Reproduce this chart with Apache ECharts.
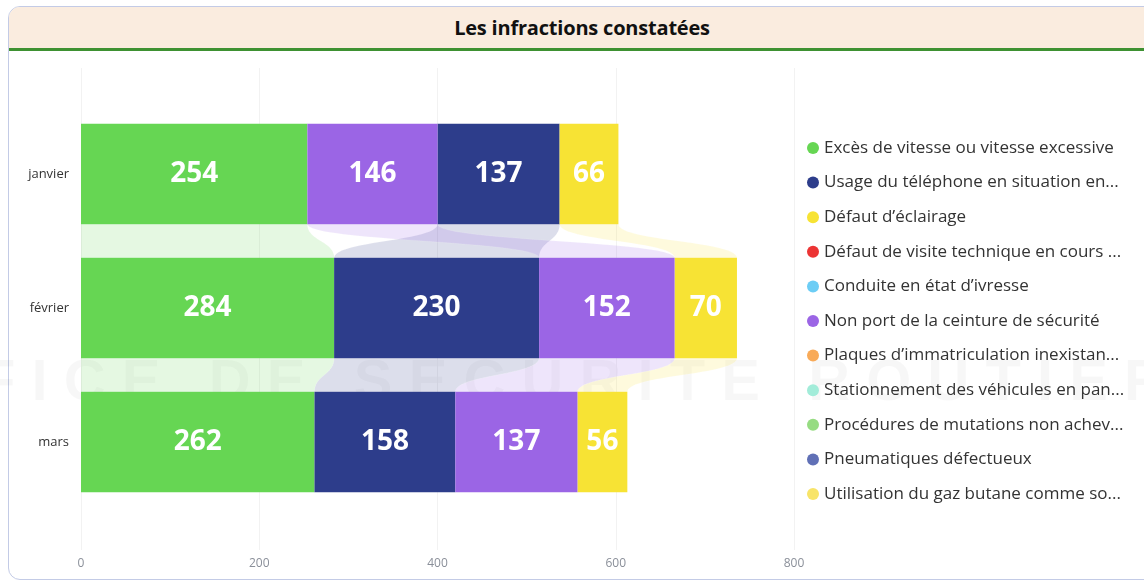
<!DOCTYPE html>
<html>
<head>
<meta charset="utf-8">
<script src="https://cdn.jsdelivr.net/npm/echarts@6/dist/echarts.min.js"></script>
<style>
  body { margin: 0; width: 1144px; height: 585px; overflow: hidden; background: #fff; font-family: 'Open Sans', 'Noto Sans', sans-serif; }
  .card { position: absolute; left: 8px; top: 6px; width: 1148px; height: 574px; border: 1px solid #c3cbe6; border-radius: 12px; overflow: hidden; box-sizing: border-box; }
  .head { height: 41px; line-height: 42px; background: #faecdf; border-bottom: 3px solid #3e9132; text-align: center; font-weight: bold; font-size: 20px; color: #111; letter-spacing: -0.2px; }
  #chart { position: absolute; left: 0; top: 0; width: 1144px; height: 585px; }
</style>
</head>
<body>
<div class="card"><div class="head">Les infractions constatées</div></div>
<div id="chart"></div>
<script>
// mois affichés
const mois = ['janvier', 'février', 'mars']
// types d'infractions (légende)
const infractions = [
  'Excès de vitesse ou vitesse excessive',
  'Usage du téléphone en situation en conduite',
  'Défaut d\u2019éclairage',
  'Défaut de visite technique en cours de validité',
  'Conduite en état d\u2019ivresse',
  'Non port de la ceinture de sécurité',
  'Plaques d\u2019immatriculation inexistantes ou illisibles',
  'Stationnement des véhicules en panne sur la chaussée',
  'Procédures de mutations non achevées',
  'Pneumatiques défectueux',
  'Utilisation du gaz butane comme source d\u2019énergie'
]
const couleurs = ['#66d653', '#2d3d8b', '#f7e334', '#ec3434', '#6ccdf5', '#9b65e5', '#f8aa58', '#a2ecd9', '#96dc82', '#6070b6', '#f8e468']

// valeurs par mois
const exces = [254, 284, 262]
const telephone = [137, 230, 158]
const eclairage = [66, 70, 56]
const visiteTechnique = [0, 0, 0]
const ivresse = [0, 0, 0]
const ceinture = [146, 152, 137]
const plaques = [0, 0, 0]
const stationnement = [0, 0, 0]
const mutations = [0, 0, 0]
const pneumatiques = [0, 0, 0]
const gazButane = [0, 0, 0]

const valeurs = [exces, telephone, eclairage, visiteTechnique, ivresse, ceinture, plaques, stationnement, mutations, pneumatiques, gazButane]

// segments triés par valeur décroissante dans chaque mois
const segments = infractions.map(() => [])
const positions = mois.map(() => ({}))
mois.forEach((m, mi) => {
  const ordre = valeurs.map((v, si) => si).filter(si => valeurs[si][mi] > 0)
  ordre.sort((a, b) => valeurs[b][mi] - valeurs[a][mi])
  let debut = 0
  ordre.forEach(si => {
    const v = valeurs[si][mi]
    segments[si].push([debut, debut + v, mi, v])
    positions[mi][si] = [debut, debut + v]
    debut += v
  })
})

// rubans entre deux mois consécutifs
const liens = []
for (let mi = 0; mi < mois.length - 1; mi++) {
  valeurs.forEach((v, si) => {
    const a = positions[mi][si]
    const b = positions[mi + 1][si]
    if (a && b) liens.push([a[0], a[1], mi, b[0], b[1], mi + 1, si])
  })
}

const bezier = (p0, p1, p2, p3, n) => {
  const pts = []
  for (let i = 0; i <= n; i++) {
    const t = i / n
    const u = 1 - t
    pts.push([
      u * u * u * p0[0] + 3 * u * u * t * p1[0] + 3 * u * t * t * p2[0] + t * t * t * p3[0],
      u * u * u * p0[1] + 3 * u * u * t * p1[1] + 3 * u * t * t * p2[1] + t * t * t * p3[1]
    ])
  }
  return pts
}

const renderLien = (params, api) => {
  const h = api.size([0, 1])[1] * 0.75
  const a0 = api.coord([api.value(0), api.value(2)])
  const a1 = api.coord([api.value(1), api.value(2)])
  const b0 = api.coord([api.value(3), api.value(5)])
  const b1 = api.coord([api.value(4), api.value(5)])
  const yb = a0[1] + h / 2
  const yt = b0[1] - h / 2
  const ym = (yb + yt) / 2
  let pts = [[a0[0], yb]]
  pts = pts.concat(bezier([a1[0], yb], [a1[0], ym], [b1[0], ym], [b1[0], yt], 24))
  pts = pts.concat(bezier([b0[0], yt], [b0[0], ym], [a0[0], ym], [a0[0], yb], 24))
  const col = couleurs[api.value(6)]
  return {
    type: 'polygon',
    shape: { points: pts },
    style: { fill: col, opacity: 0.17, stroke: 'rgba(255,255,255,0.6)', lineWidth: 1 }
  }
}

const renderSegment = (params, api) => {
  const h = api.size([0, 1])[1] * 0.75
  const c0 = api.coord([api.value(0), api.value(2)])
  const c1 = api.coord([api.value(1), api.value(2)])
  return {
    type: 'rect',
    shape: { x: c0[0], y: c0[1] - h / 2, width: c1[0] - c0[0], height: h },
    style: { fill: api.visual('color') },
    textContent: {
      style: { text: String(api.value(3)), fill: '#fff', fontSize: 28, fontWeight: 'bold', fontFamily: 'Open Sans' }
    },
    textConfig: { position: 'inside' }
  }
}

const chart = echarts.init(document.getElementById('chart'))

const series = infractions.map((nom, si) => ({
  name: nom,
  type: 'custom',
  xAxisIndex: 0,
  yAxisIndex: 0,
  z: 3,
  itemStyle: { color: couleurs[si] },
  encode: { x: [0, 1], y: 2 },
  renderItem: renderSegment,
  data: segments[si]
}))
series.push({
  name: 'liens',
  type: 'custom',
  xAxisIndex: 0,
  yAxisIndex: 0,
  z: 2,
  silent: true,
  encode: { x: [0, 1, 3, 4], y: [2, 5] },
  renderItem: renderLien,
  data: liens
})

chart.setOption({
  textStyle: { fontFamily: 'Open Sans' },
  animation: false,
  graphic: [
    {
      type: 'text',
      left: -20,
      top: 355,
      z: -10,
      style: {
        text: 'F I C E   D E   S E C U R I T E   R O U T I E R E',
        fontSize: 58,
        fontWeight: 'bold',
        fill: 'rgba(0,0,0,0.03)'
      }
    }
  ],
  legend: {
    orient: 'vertical',
    left: 802,
    top: 133,
    icon: 'circle',
    itemWidth: 12,
    itemHeight: 12,
    itemGap: 14.6,
    data: infractions,
    textStyle: {
      fontSize: 17,
      lineHeight: 20,
      color: '#333',
      width: 302,
      overflow: 'truncate',
      ellipsis: '...'
    }
  },
  grid: [
    { left: 81, right: 350, top: 107, bottom: 76 },
    { left: 81, right: 350, top: 68, bottom: 35 }
  ],
  xAxis: [
    { type: 'value', gridIndex: 0, min: 0, max: 800, show: false, splitLine: { show: false } },
    {
      type: 'value',
      gridIndex: 1,
      min: 0,
      max: 800,
      interval: 200,
      axisLine: { show: false },
      axisTick: { show: false },
      axisLabel: { color: '#8a8f99', fontSize: 12, margin: 8 },
      splitLine: { lineStyle: { color: '#f2f2f2' } }
    }
  ],
  yAxis: [
    {
      type: 'category',
      gridIndex: 0,
      inverse: true,
      data: mois,
      axisLine: { show: false },
      axisTick: { show: false },
      axisLabel: { color: '#333', fontSize: 13, margin: 12 }
    },
    { type: 'value', gridIndex: 1, show: false, splitLine: { show: false } }
  ],
  series: series
})
</script>
</body>
</html>
